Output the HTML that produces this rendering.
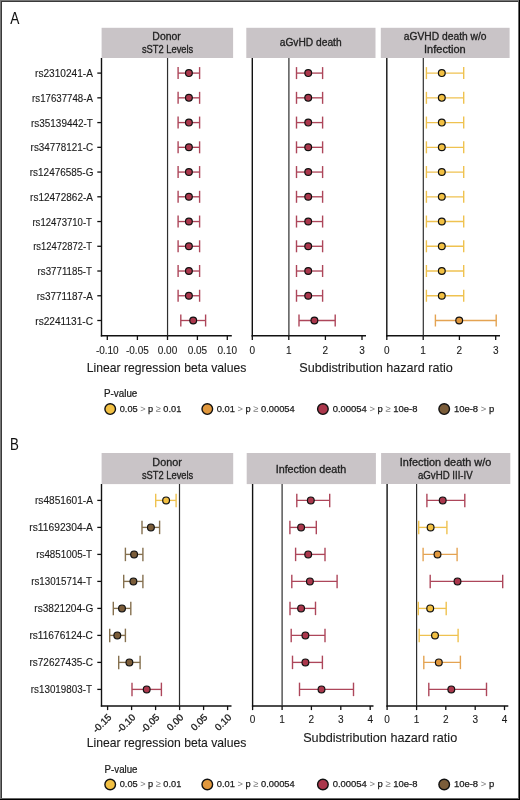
<!DOCTYPE html>
<html><head><meta charset="utf-8"><style>
html,body{margin:0;padding:0;background:#fff;}
svg{display:block;font-family:"Liberation Sans", sans-serif;}
.g{will-change:transform;}
</style></head><body>
<svg class="g" width="520" height="800" viewBox="0 0 520 800">
<rect x="0" y="0" width="520" height="800" fill="#fff"/>
<rect x="0.00" y="0.00" width="520.00" height="1.00" fill="#777"/>
<rect x="0.00" y="1.00" width="519.00" height="1.00" fill="#3a3a3a"/>
<rect x="0.00" y="0.00" width="1.00" height="800.00" fill="#777"/>
<rect x="1.00" y="1.00" width="1.00" height="798.00" fill="#3a3a3a"/>
<rect x="518.00" y="1.00" width="1.00" height="798.00" fill="#666"/>
<rect x="519.00" y="0.00" width="1.00" height="800.00" fill="#000"/>
<rect x="1.00" y="798.00" width="518.00" height="1.00" fill="#666"/>
<rect x="0.00" y="799.00" width="520.00" height="1.00" fill="#000"/>
<text x="10.20" y="23.70" font-size="16.0" fill="#111" stroke="#111" stroke-width="0.05" textLength="9.10" lengthAdjust="spacingAndGlyphs" >A</text>
<text x="9.94" y="449.90" font-size="16.0" fill="#111" stroke="#111" stroke-width="0.05" textLength="8.84" lengthAdjust="spacingAndGlyphs" >B</text>
<rect x="101.60" y="27.80" width="131.50" height="30.20" fill="#c9c4c7"/>
<text x="152.39" y="39.60" font-size="10.0" fill="#222" stroke="#222" stroke-width="0.3" textLength="28.43" lengthAdjust="spacingAndGlyphs" >Donor</text>
<text x="141.89" y="52.80" font-size="10.0" fill="#222" stroke="#222" stroke-width="0.3" textLength="51.40" lengthAdjust="spacingAndGlyphs" >sST2 Levels</text>
<rect x="246.30" y="27.80" width="129.20" height="30.20" fill="#c9c4c7"/>
<text x="279.72" y="46.40" font-size="10.0" fill="#222" stroke="#222" stroke-width="0.3" textLength="61.90" lengthAdjust="spacingAndGlyphs" >aGvHD death</text>
<rect x="380.80" y="27.80" width="128.80" height="30.20" fill="#c9c4c7"/>
<text x="403.81" y="39.80" font-size="10.0" fill="#222" stroke="#222" stroke-width="0.3" textLength="82.77" lengthAdjust="spacingAndGlyphs" >aGVHD death w/o</text>
<text x="424.03" y="52.90" font-size="10.0" fill="#222" stroke="#222" stroke-width="0.3" textLength="41.63" lengthAdjust="spacingAndGlyphs" >Infection</text>
<rect x="101.60" y="453.00" width="131.60" height="31.10" fill="#c9c4c7"/>
<text x="152.36" y="466.40" font-size="10.0" fill="#222" stroke="#222" stroke-width="0.3" textLength="29.47" lengthAdjust="spacingAndGlyphs" >Donor</text>
<text x="141.89" y="479.40" font-size="10.0" fill="#222" stroke="#222" stroke-width="0.3" textLength="51.40" lengthAdjust="spacingAndGlyphs" >sST2 Levels</text>
<rect x="246.70" y="453.00" width="129.20" height="31.10" fill="#c9c4c7"/>
<text x="275.66" y="472.50" font-size="10.0" fill="#222" stroke="#222" stroke-width="0.3" textLength="70.59" lengthAdjust="spacingAndGlyphs" >Infection death</text>
<rect x="381.10" y="453.00" width="129.20" height="31.00" fill="#c9c4c7"/>
<text x="399.84" y="466.00" font-size="10.0" fill="#222" stroke="#222" stroke-width="0.3" textLength="91.46" lengthAdjust="spacingAndGlyphs" >Infection death w/o</text>
<text x="417.94" y="478.50" font-size="10.0" fill="#222" stroke="#222" stroke-width="0.3" textLength="54.75" lengthAdjust="spacingAndGlyphs" >aGvHD III-IV</text>
<text x="35.09" y="77.10" font-size="10.6" fill="#1a1a1a" stroke="#1a1a1a" stroke-width="0.12" textLength="57.87" lengthAdjust="spacingAndGlyphs" >rs2310241-A</text>
<line x1="97.30" y1="73.10" x2="101.60" y2="73.10" stroke="#111" stroke-width="1.3"/>
<text x="32.12" y="101.84" font-size="10.6" fill="#1a1a1a" stroke="#1a1a1a" stroke-width="0.12" textLength="60.84" lengthAdjust="spacingAndGlyphs" >rs17637748-A</text>
<line x1="97.30" y1="97.84" x2="101.60" y2="97.84" stroke="#111" stroke-width="1.3"/>
<text x="31.00" y="126.58" font-size="10.6" fill="#1a1a1a" stroke="#1a1a1a" stroke-width="0.12" textLength="61.87" lengthAdjust="spacingAndGlyphs" >rs35139442-T</text>
<line x1="97.30" y1="122.58" x2="101.60" y2="122.58" stroke="#111" stroke-width="1.3"/>
<text x="30.61" y="151.32" font-size="10.6" fill="#1a1a1a" stroke="#1a1a1a" stroke-width="0.12" textLength="62.41" lengthAdjust="spacingAndGlyphs" >rs34778121-C</text>
<line x1="97.30" y1="147.32" x2="101.60" y2="147.32" stroke="#111" stroke-width="1.3"/>
<text x="29.80" y="176.06" font-size="10.6" fill="#1a1a1a" stroke="#1a1a1a" stroke-width="0.12" textLength="63.58" lengthAdjust="spacingAndGlyphs" >rs12476585-G</text>
<line x1="97.30" y1="172.06" x2="101.60" y2="172.06" stroke="#111" stroke-width="1.3"/>
<text x="30.10" y="200.80" font-size="10.6" fill="#1a1a1a" stroke="#1a1a1a" stroke-width="0.12" textLength="62.86" lengthAdjust="spacingAndGlyphs" >rs12472862-A</text>
<line x1="97.30" y1="196.80" x2="101.60" y2="196.80" stroke="#111" stroke-width="1.3"/>
<text x="32.43" y="225.54" font-size="10.6" fill="#1a1a1a" stroke="#1a1a1a" stroke-width="0.12" textLength="59.53" lengthAdjust="spacingAndGlyphs" >rs12473710-T</text>
<line x1="97.30" y1="221.54" x2="101.60" y2="221.54" stroke="#111" stroke-width="1.3"/>
<text x="33.23" y="250.28" font-size="10.6" fill="#1a1a1a" stroke="#1a1a1a" stroke-width="0.12" textLength="58.72" lengthAdjust="spacingAndGlyphs" >rs12472872-T</text>
<line x1="97.30" y1="246.28" x2="101.60" y2="246.28" stroke="#111" stroke-width="1.3"/>
<text x="37.62" y="275.02" font-size="10.6" fill="#1a1a1a" stroke="#1a1a1a" stroke-width="0.12" textLength="54.34" lengthAdjust="spacingAndGlyphs" >rs3771185-T</text>
<line x1="97.30" y1="271.02" x2="101.60" y2="271.02" stroke="#111" stroke-width="1.3"/>
<text x="36.71" y="299.76" font-size="10.6" fill="#1a1a1a" stroke="#1a1a1a" stroke-width="0.12" textLength="56.25" lengthAdjust="spacingAndGlyphs" >rs3771187-A</text>
<line x1="97.30" y1="295.76" x2="101.60" y2="295.76" stroke="#111" stroke-width="1.3"/>
<text x="35.30" y="324.50" font-size="10.6" fill="#1a1a1a" stroke="#1a1a1a" stroke-width="0.12" textLength="57.72" lengthAdjust="spacingAndGlyphs" >rs2241131-C</text>
<line x1="97.30" y1="320.50" x2="101.60" y2="320.50" stroke="#111" stroke-width="1.3"/>
<line x1="101.50" y1="58.00" x2="101.50" y2="336.50" stroke="#111" stroke-width="1.4"/>
<line x1="100.80" y1="335.80" x2="231.80" y2="335.80" stroke="#111" stroke-width="1.5"/>
<line x1="167.55" y1="58.00" x2="167.55" y2="335.80" stroke="#2e2e2e" stroke-width="1.2"/>
<line x1="107.30" y1="335.80" x2="107.30" y2="340.00" stroke="#111" stroke-width="1.3"/>
<text x="95.88" y="353.60" font-size="10" fill="#1a1a1a" stroke="#1a1a1a" stroke-width="0.1" textLength="22.79" lengthAdjust="spacingAndGlyphs" >-0.10</text>
<line x1="137.40" y1="335.80" x2="137.40" y2="340.00" stroke="#111" stroke-width="1.3"/>
<text x="125.99" y="353.60" font-size="10" fill="#1a1a1a" stroke="#1a1a1a" stroke-width="0.1" textLength="22.79" lengthAdjust="spacingAndGlyphs" >-0.05</text>
<line x1="167.50" y1="335.80" x2="167.50" y2="340.00" stroke="#111" stroke-width="1.3"/>
<text x="157.77" y="353.60" font-size="10" fill="#1a1a1a" stroke="#1a1a1a" stroke-width="0.1" textLength="19.46" lengthAdjust="spacingAndGlyphs" >0.00</text>
<line x1="197.40" y1="335.80" x2="197.40" y2="340.00" stroke="#111" stroke-width="1.3"/>
<text x="187.68" y="353.60" font-size="10" fill="#1a1a1a" stroke="#1a1a1a" stroke-width="0.1" textLength="19.46" lengthAdjust="spacingAndGlyphs" >0.05</text>
<line x1="227.30" y1="335.80" x2="227.30" y2="340.00" stroke="#111" stroke-width="1.3"/>
<text x="217.57" y="353.60" font-size="10" fill="#1a1a1a" stroke="#1a1a1a" stroke-width="0.1" textLength="19.46" lengthAdjust="spacingAndGlyphs" >0.10</text>
<line x1="252.30" y1="58.00" x2="252.30" y2="336.50" stroke="#111" stroke-width="1.4"/>
<line x1="251.60" y1="335.80" x2="366.00" y2="335.80" stroke="#111" stroke-width="1.5"/>
<line x1="288.90" y1="58.00" x2="288.90" y2="335.80" stroke="#2e2e2e" stroke-width="1.2"/>
<line x1="252.30" y1="335.80" x2="252.30" y2="340.00" stroke="#111" stroke-width="1.3"/>
<text x="249.52" y="353.60" font-size="10" fill="#1a1a1a" stroke="#1a1a1a" stroke-width="0.1" textLength="5.56" lengthAdjust="spacingAndGlyphs" >0</text>
<line x1="288.80" y1="335.80" x2="288.80" y2="340.00" stroke="#111" stroke-width="1.3"/>
<text x="285.88" y="353.60" font-size="10" fill="#1a1a1a" stroke="#1a1a1a" stroke-width="0.1" textLength="5.56" lengthAdjust="spacingAndGlyphs" >1</text>
<line x1="325.40" y1="335.80" x2="325.40" y2="340.00" stroke="#111" stroke-width="1.3"/>
<text x="322.62" y="353.60" font-size="10" fill="#1a1a1a" stroke="#1a1a1a" stroke-width="0.1" textLength="5.56" lengthAdjust="spacingAndGlyphs" >2</text>
<line x1="362.00" y1="335.80" x2="362.00" y2="340.00" stroke="#111" stroke-width="1.3"/>
<text x="359.25" y="353.60" font-size="10" fill="#1a1a1a" stroke="#1a1a1a" stroke-width="0.1" textLength="5.56" lengthAdjust="spacingAndGlyphs" >3</text>
<line x1="386.80" y1="58.00" x2="386.80" y2="336.50" stroke="#111" stroke-width="1.4"/>
<line x1="386.10" y1="335.80" x2="500.00" y2="335.80" stroke="#111" stroke-width="1.5"/>
<line x1="423.30" y1="58.00" x2="423.30" y2="335.80" stroke="#2e2e2e" stroke-width="1.2"/>
<line x1="386.80" y1="335.80" x2="386.80" y2="340.00" stroke="#111" stroke-width="1.3"/>
<text x="384.02" y="353.60" font-size="10" fill="#1a1a1a" stroke="#1a1a1a" stroke-width="0.1" textLength="5.56" lengthAdjust="spacingAndGlyphs" >0</text>
<line x1="423.20" y1="335.80" x2="423.20" y2="340.00" stroke="#111" stroke-width="1.3"/>
<text x="420.28" y="353.60" font-size="10" fill="#1a1a1a" stroke="#1a1a1a" stroke-width="0.1" textLength="5.56" lengthAdjust="spacingAndGlyphs" >1</text>
<line x1="459.40" y1="335.80" x2="459.40" y2="340.00" stroke="#111" stroke-width="1.3"/>
<text x="456.62" y="353.60" font-size="10" fill="#1a1a1a" stroke="#1a1a1a" stroke-width="0.1" textLength="5.56" lengthAdjust="spacingAndGlyphs" >2</text>
<line x1="495.70" y1="335.80" x2="495.70" y2="340.00" stroke="#111" stroke-width="1.3"/>
<text x="492.95" y="353.60" font-size="10" fill="#1a1a1a" stroke="#1a1a1a" stroke-width="0.1" textLength="5.56" lengthAdjust="spacingAndGlyphs" >3</text>
<line x1="178.10" y1="73.10" x2="199.60" y2="73.10" stroke="#ad465a" stroke-width="1.35"/>
<line x1="178.10" y1="67.10" x2="178.10" y2="79.10" stroke="#ad465a" stroke-width="1.4"/>
<line x1="199.60" y1="67.10" x2="199.60" y2="79.10" stroke="#ad465a" stroke-width="1.4"/>
<circle cx="188.90" cy="73.10" r="3.4" fill="#ab374c" stroke="#111" stroke-width="1.2"/>
<line x1="178.10" y1="97.84" x2="199.60" y2="97.84" stroke="#ad465a" stroke-width="1.35"/>
<line x1="178.10" y1="91.84" x2="178.10" y2="103.84" stroke="#ad465a" stroke-width="1.4"/>
<line x1="199.60" y1="91.84" x2="199.60" y2="103.84" stroke="#ad465a" stroke-width="1.4"/>
<circle cx="188.90" cy="97.84" r="3.4" fill="#ab374c" stroke="#111" stroke-width="1.2"/>
<line x1="178.10" y1="122.58" x2="199.60" y2="122.58" stroke="#ad465a" stroke-width="1.35"/>
<line x1="178.10" y1="116.58" x2="178.10" y2="128.58" stroke="#ad465a" stroke-width="1.4"/>
<line x1="199.60" y1="116.58" x2="199.60" y2="128.58" stroke="#ad465a" stroke-width="1.4"/>
<circle cx="188.90" cy="122.58" r="3.4" fill="#ab374c" stroke="#111" stroke-width="1.2"/>
<line x1="178.10" y1="147.32" x2="199.60" y2="147.32" stroke="#ad465a" stroke-width="1.35"/>
<line x1="178.10" y1="141.32" x2="178.10" y2="153.32" stroke="#ad465a" stroke-width="1.4"/>
<line x1="199.60" y1="141.32" x2="199.60" y2="153.32" stroke="#ad465a" stroke-width="1.4"/>
<circle cx="188.90" cy="147.32" r="3.4" fill="#ab374c" stroke="#111" stroke-width="1.2"/>
<line x1="178.10" y1="172.06" x2="199.60" y2="172.06" stroke="#ad465a" stroke-width="1.35"/>
<line x1="178.10" y1="166.06" x2="178.10" y2="178.06" stroke="#ad465a" stroke-width="1.4"/>
<line x1="199.60" y1="166.06" x2="199.60" y2="178.06" stroke="#ad465a" stroke-width="1.4"/>
<circle cx="188.90" cy="172.06" r="3.4" fill="#ab374c" stroke="#111" stroke-width="1.2"/>
<line x1="178.10" y1="196.80" x2="199.60" y2="196.80" stroke="#ad465a" stroke-width="1.35"/>
<line x1="178.10" y1="190.80" x2="178.10" y2="202.80" stroke="#ad465a" stroke-width="1.4"/>
<line x1="199.60" y1="190.80" x2="199.60" y2="202.80" stroke="#ad465a" stroke-width="1.4"/>
<circle cx="188.90" cy="196.80" r="3.4" fill="#ab374c" stroke="#111" stroke-width="1.2"/>
<line x1="178.10" y1="221.54" x2="199.60" y2="221.54" stroke="#ad465a" stroke-width="1.35"/>
<line x1="178.10" y1="215.54" x2="178.10" y2="227.54" stroke="#ad465a" stroke-width="1.4"/>
<line x1="199.60" y1="215.54" x2="199.60" y2="227.54" stroke="#ad465a" stroke-width="1.4"/>
<circle cx="188.90" cy="221.54" r="3.4" fill="#ab374c" stroke="#111" stroke-width="1.2"/>
<line x1="178.10" y1="246.28" x2="199.60" y2="246.28" stroke="#ad465a" stroke-width="1.35"/>
<line x1="178.10" y1="240.28" x2="178.10" y2="252.28" stroke="#ad465a" stroke-width="1.4"/>
<line x1="199.60" y1="240.28" x2="199.60" y2="252.28" stroke="#ad465a" stroke-width="1.4"/>
<circle cx="188.90" cy="246.28" r="3.4" fill="#ab374c" stroke="#111" stroke-width="1.2"/>
<line x1="178.10" y1="271.02" x2="199.60" y2="271.02" stroke="#ad465a" stroke-width="1.35"/>
<line x1="178.10" y1="265.02" x2="178.10" y2="277.02" stroke="#ad465a" stroke-width="1.4"/>
<line x1="199.60" y1="265.02" x2="199.60" y2="277.02" stroke="#ad465a" stroke-width="1.4"/>
<circle cx="188.90" cy="271.02" r="3.4" fill="#ab374c" stroke="#111" stroke-width="1.2"/>
<line x1="178.10" y1="295.76" x2="199.60" y2="295.76" stroke="#ad465a" stroke-width="1.35"/>
<line x1="178.10" y1="289.76" x2="178.10" y2="301.76" stroke="#ad465a" stroke-width="1.4"/>
<line x1="199.60" y1="289.76" x2="199.60" y2="301.76" stroke="#ad465a" stroke-width="1.4"/>
<circle cx="188.90" cy="295.76" r="3.4" fill="#ab374c" stroke="#111" stroke-width="1.2"/>
<line x1="180.80" y1="320.50" x2="205.60" y2="320.50" stroke="#ad465a" stroke-width="1.35"/>
<line x1="180.80" y1="314.50" x2="180.80" y2="326.50" stroke="#ad465a" stroke-width="1.4"/>
<line x1="205.60" y1="314.50" x2="205.60" y2="326.50" stroke="#ad465a" stroke-width="1.4"/>
<circle cx="193.20" cy="320.50" r="3.4" fill="#ab374c" stroke="#111" stroke-width="1.2"/>
<line x1="296.50" y1="73.10" x2="322.60" y2="73.10" stroke="#ad465a" stroke-width="1.35"/>
<line x1="296.50" y1="67.10" x2="296.50" y2="79.10" stroke="#ad465a" stroke-width="1.4"/>
<line x1="322.60" y1="67.10" x2="322.60" y2="79.10" stroke="#ad465a" stroke-width="1.4"/>
<circle cx="308.20" cy="73.10" r="3.4" fill="#ab374c" stroke="#111" stroke-width="1.2"/>
<line x1="296.50" y1="97.84" x2="322.60" y2="97.84" stroke="#ad465a" stroke-width="1.35"/>
<line x1="296.50" y1="91.84" x2="296.50" y2="103.84" stroke="#ad465a" stroke-width="1.4"/>
<line x1="322.60" y1="91.84" x2="322.60" y2="103.84" stroke="#ad465a" stroke-width="1.4"/>
<circle cx="308.20" cy="97.84" r="3.4" fill="#ab374c" stroke="#111" stroke-width="1.2"/>
<line x1="296.50" y1="122.58" x2="322.60" y2="122.58" stroke="#ad465a" stroke-width="1.35"/>
<line x1="296.50" y1="116.58" x2="296.50" y2="128.58" stroke="#ad465a" stroke-width="1.4"/>
<line x1="322.60" y1="116.58" x2="322.60" y2="128.58" stroke="#ad465a" stroke-width="1.4"/>
<circle cx="308.20" cy="122.58" r="3.4" fill="#ab374c" stroke="#111" stroke-width="1.2"/>
<line x1="296.50" y1="147.32" x2="322.60" y2="147.32" stroke="#ad465a" stroke-width="1.35"/>
<line x1="296.50" y1="141.32" x2="296.50" y2="153.32" stroke="#ad465a" stroke-width="1.4"/>
<line x1="322.60" y1="141.32" x2="322.60" y2="153.32" stroke="#ad465a" stroke-width="1.4"/>
<circle cx="308.20" cy="147.32" r="3.4" fill="#ab374c" stroke="#111" stroke-width="1.2"/>
<line x1="296.50" y1="172.06" x2="322.60" y2="172.06" stroke="#ad465a" stroke-width="1.35"/>
<line x1="296.50" y1="166.06" x2="296.50" y2="178.06" stroke="#ad465a" stroke-width="1.4"/>
<line x1="322.60" y1="166.06" x2="322.60" y2="178.06" stroke="#ad465a" stroke-width="1.4"/>
<circle cx="308.20" cy="172.06" r="3.4" fill="#ab374c" stroke="#111" stroke-width="1.2"/>
<line x1="296.50" y1="196.80" x2="322.60" y2="196.80" stroke="#ad465a" stroke-width="1.35"/>
<line x1="296.50" y1="190.80" x2="296.50" y2="202.80" stroke="#ad465a" stroke-width="1.4"/>
<line x1="322.60" y1="190.80" x2="322.60" y2="202.80" stroke="#ad465a" stroke-width="1.4"/>
<circle cx="308.20" cy="196.80" r="3.4" fill="#ab374c" stroke="#111" stroke-width="1.2"/>
<line x1="296.50" y1="221.54" x2="322.60" y2="221.54" stroke="#ad465a" stroke-width="1.35"/>
<line x1="296.50" y1="215.54" x2="296.50" y2="227.54" stroke="#ad465a" stroke-width="1.4"/>
<line x1="322.60" y1="215.54" x2="322.60" y2="227.54" stroke="#ad465a" stroke-width="1.4"/>
<circle cx="308.20" cy="221.54" r="3.4" fill="#ab374c" stroke="#111" stroke-width="1.2"/>
<line x1="296.50" y1="246.28" x2="322.60" y2="246.28" stroke="#ad465a" stroke-width="1.35"/>
<line x1="296.50" y1="240.28" x2="296.50" y2="252.28" stroke="#ad465a" stroke-width="1.4"/>
<line x1="322.60" y1="240.28" x2="322.60" y2="252.28" stroke="#ad465a" stroke-width="1.4"/>
<circle cx="308.20" cy="246.28" r="3.4" fill="#ab374c" stroke="#111" stroke-width="1.2"/>
<line x1="296.50" y1="271.02" x2="322.60" y2="271.02" stroke="#ad465a" stroke-width="1.35"/>
<line x1="296.50" y1="265.02" x2="296.50" y2="277.02" stroke="#ad465a" stroke-width="1.4"/>
<line x1="322.60" y1="265.02" x2="322.60" y2="277.02" stroke="#ad465a" stroke-width="1.4"/>
<circle cx="308.20" cy="271.02" r="3.4" fill="#ab374c" stroke="#111" stroke-width="1.2"/>
<line x1="296.50" y1="295.76" x2="322.60" y2="295.76" stroke="#ad465a" stroke-width="1.35"/>
<line x1="296.50" y1="289.76" x2="296.50" y2="301.76" stroke="#ad465a" stroke-width="1.4"/>
<line x1="322.60" y1="289.76" x2="322.60" y2="301.76" stroke="#ad465a" stroke-width="1.4"/>
<circle cx="308.20" cy="295.76" r="3.4" fill="#ab374c" stroke="#111" stroke-width="1.2"/>
<line x1="299.00" y1="320.50" x2="335.20" y2="320.50" stroke="#ad465a" stroke-width="1.35"/>
<line x1="299.00" y1="314.50" x2="299.00" y2="326.50" stroke="#ad465a" stroke-width="1.4"/>
<line x1="335.20" y1="314.50" x2="335.20" y2="326.50" stroke="#ad465a" stroke-width="1.4"/>
<circle cx="314.40" cy="320.50" r="3.4" fill="#ab374c" stroke="#111" stroke-width="1.2"/>
<line x1="426.40" y1="73.10" x2="463.70" y2="73.10" stroke="#efc250" stroke-width="1.35"/>
<line x1="426.40" y1="67.10" x2="426.40" y2="79.10" stroke="#efc250" stroke-width="1.4"/>
<line x1="463.70" y1="67.10" x2="463.70" y2="79.10" stroke="#efc250" stroke-width="1.4"/>
<circle cx="441.80" cy="73.10" r="3.4" fill="#f2c043" stroke="#111" stroke-width="1.2"/>
<line x1="426.40" y1="97.84" x2="463.70" y2="97.84" stroke="#efc250" stroke-width="1.35"/>
<line x1="426.40" y1="91.84" x2="426.40" y2="103.84" stroke="#efc250" stroke-width="1.4"/>
<line x1="463.70" y1="91.84" x2="463.70" y2="103.84" stroke="#efc250" stroke-width="1.4"/>
<circle cx="441.80" cy="97.84" r="3.4" fill="#f2c043" stroke="#111" stroke-width="1.2"/>
<line x1="426.40" y1="122.58" x2="463.70" y2="122.58" stroke="#efc250" stroke-width="1.35"/>
<line x1="426.40" y1="116.58" x2="426.40" y2="128.58" stroke="#efc250" stroke-width="1.4"/>
<line x1="463.70" y1="116.58" x2="463.70" y2="128.58" stroke="#efc250" stroke-width="1.4"/>
<circle cx="441.80" cy="122.58" r="3.4" fill="#f2c043" stroke="#111" stroke-width="1.2"/>
<line x1="426.40" y1="147.32" x2="463.70" y2="147.32" stroke="#efc250" stroke-width="1.35"/>
<line x1="426.40" y1="141.32" x2="426.40" y2="153.32" stroke="#efc250" stroke-width="1.4"/>
<line x1="463.70" y1="141.32" x2="463.70" y2="153.32" stroke="#efc250" stroke-width="1.4"/>
<circle cx="441.80" cy="147.32" r="3.4" fill="#f2c043" stroke="#111" stroke-width="1.2"/>
<line x1="426.40" y1="172.06" x2="463.70" y2="172.06" stroke="#efc250" stroke-width="1.35"/>
<line x1="426.40" y1="166.06" x2="426.40" y2="178.06" stroke="#efc250" stroke-width="1.4"/>
<line x1="463.70" y1="166.06" x2="463.70" y2="178.06" stroke="#efc250" stroke-width="1.4"/>
<circle cx="441.80" cy="172.06" r="3.4" fill="#f2c043" stroke="#111" stroke-width="1.2"/>
<line x1="426.40" y1="196.80" x2="463.70" y2="196.80" stroke="#efc250" stroke-width="1.35"/>
<line x1="426.40" y1="190.80" x2="426.40" y2="202.80" stroke="#efc250" stroke-width="1.4"/>
<line x1="463.70" y1="190.80" x2="463.70" y2="202.80" stroke="#efc250" stroke-width="1.4"/>
<circle cx="441.80" cy="196.80" r="3.4" fill="#f2c043" stroke="#111" stroke-width="1.2"/>
<line x1="426.40" y1="221.54" x2="463.70" y2="221.54" stroke="#efc250" stroke-width="1.35"/>
<line x1="426.40" y1="215.54" x2="426.40" y2="227.54" stroke="#efc250" stroke-width="1.4"/>
<line x1="463.70" y1="215.54" x2="463.70" y2="227.54" stroke="#efc250" stroke-width="1.4"/>
<circle cx="441.80" cy="221.54" r="3.4" fill="#f2c043" stroke="#111" stroke-width="1.2"/>
<line x1="426.40" y1="246.28" x2="463.70" y2="246.28" stroke="#efc250" stroke-width="1.35"/>
<line x1="426.40" y1="240.28" x2="426.40" y2="252.28" stroke="#efc250" stroke-width="1.4"/>
<line x1="463.70" y1="240.28" x2="463.70" y2="252.28" stroke="#efc250" stroke-width="1.4"/>
<circle cx="441.80" cy="246.28" r="3.4" fill="#f2c043" stroke="#111" stroke-width="1.2"/>
<line x1="426.40" y1="271.02" x2="463.70" y2="271.02" stroke="#efc250" stroke-width="1.35"/>
<line x1="426.40" y1="265.02" x2="426.40" y2="277.02" stroke="#efc250" stroke-width="1.4"/>
<line x1="463.70" y1="265.02" x2="463.70" y2="277.02" stroke="#efc250" stroke-width="1.4"/>
<circle cx="441.80" cy="271.02" r="3.4" fill="#f2c043" stroke="#111" stroke-width="1.2"/>
<line x1="426.40" y1="295.76" x2="463.70" y2="295.76" stroke="#efc250" stroke-width="1.35"/>
<line x1="426.40" y1="289.76" x2="426.40" y2="301.76" stroke="#efc250" stroke-width="1.4"/>
<line x1="463.70" y1="289.76" x2="463.70" y2="301.76" stroke="#efc250" stroke-width="1.4"/>
<circle cx="441.80" cy="295.76" r="3.4" fill="#f2c043" stroke="#111" stroke-width="1.2"/>
<line x1="435.40" y1="320.50" x2="496.20" y2="320.50" stroke="#e4a352" stroke-width="1.35"/>
<line x1="435.40" y1="314.50" x2="435.40" y2="326.50" stroke="#e4a352" stroke-width="1.4"/>
<line x1="496.20" y1="314.50" x2="496.20" y2="326.50" stroke="#e4a352" stroke-width="1.4"/>
<circle cx="459.20" cy="320.50" r="3.4" fill="#e1983d" stroke="#111" stroke-width="1.2"/>
<text x="86.76" y="371.60" font-size="13.2" fill="#1a1a1a" stroke="#1a1a1a" stroke-width="0.12" textLength="159.62" lengthAdjust="spacingAndGlyphs" >Linear regression beta values</text>
<text x="299.29" y="371.60" font-size="13.2" fill="#1a1a1a" stroke="#1a1a1a" stroke-width="0.12" textLength="153.58" lengthAdjust="spacingAndGlyphs" >Subdistribution hazard ratio</text>
<text x="34.99" y="504.10" font-size="10.6" fill="#1a1a1a" stroke="#1a1a1a" stroke-width="0.12" textLength="57.97" lengthAdjust="spacingAndGlyphs" >rs4851601-A</text>
<line x1="97.30" y1="500.40" x2="101.60" y2="500.40" stroke="#111" stroke-width="1.3"/>
<text x="29.29" y="531.10" font-size="10.6" fill="#1a1a1a" stroke="#1a1a1a" stroke-width="0.12" textLength="63.67" lengthAdjust="spacingAndGlyphs" >rs11692304-A</text>
<line x1="97.30" y1="527.40" x2="101.60" y2="527.40" stroke="#111" stroke-width="1.3"/>
<text x="36.21" y="558.10" font-size="10.6" fill="#1a1a1a" stroke="#1a1a1a" stroke-width="0.12" textLength="55.76" lengthAdjust="spacingAndGlyphs" >rs4851005-T</text>
<line x1="97.30" y1="554.40" x2="101.60" y2="554.40" stroke="#111" stroke-width="1.3"/>
<text x="31.21" y="585.10" font-size="10.6" fill="#1a1a1a" stroke="#1a1a1a" stroke-width="0.12" textLength="60.75" lengthAdjust="spacingAndGlyphs" >rs13015714-T</text>
<line x1="97.30" y1="581.40" x2="101.60" y2="581.40" stroke="#111" stroke-width="1.3"/>
<text x="34.29" y="612.10" font-size="10.6" fill="#1a1a1a" stroke="#1a1a1a" stroke-width="0.12" textLength="59.01" lengthAdjust="spacingAndGlyphs" >rs3821204-G</text>
<line x1="97.30" y1="608.40" x2="101.60" y2="608.40" stroke="#111" stroke-width="1.3"/>
<text x="29.39" y="639.10" font-size="10.6" fill="#1a1a1a" stroke="#1a1a1a" stroke-width="0.12" textLength="63.53" lengthAdjust="spacingAndGlyphs" >rs11676124-C</text>
<line x1="97.30" y1="635.40" x2="101.60" y2="635.40" stroke="#111" stroke-width="1.3"/>
<text x="29.39" y="666.10" font-size="10.6" fill="#1a1a1a" stroke="#1a1a1a" stroke-width="0.12" textLength="63.53" lengthAdjust="spacingAndGlyphs" >rs72627435-C</text>
<line x1="97.30" y1="662.40" x2="101.60" y2="662.40" stroke="#111" stroke-width="1.3"/>
<text x="30.81" y="693.10" font-size="10.6" fill="#1a1a1a" stroke="#1a1a1a" stroke-width="0.12" textLength="61.16" lengthAdjust="spacingAndGlyphs" >rs13019803-T</text>
<line x1="97.30" y1="689.40" x2="101.60" y2="689.40" stroke="#111" stroke-width="1.3"/>
<line x1="101.50" y1="484.00" x2="101.50" y2="706.60" stroke="#111" stroke-width="1.4"/>
<line x1="100.80" y1="705.90" x2="231.50" y2="705.90" stroke="#111" stroke-width="1.5"/>
<line x1="179.50" y1="484.00" x2="179.50" y2="705.90" stroke="#2e2e2e" stroke-width="1.2"/>
<line x1="107.60" y1="705.90" x2="107.60" y2="710.10" stroke="#111" stroke-width="1.3"/>
<line x1="131.60" y1="705.90" x2="131.60" y2="710.10" stroke="#111" stroke-width="1.3"/>
<line x1="155.60" y1="705.90" x2="155.60" y2="710.10" stroke="#111" stroke-width="1.3"/>
<line x1="179.60" y1="705.90" x2="179.60" y2="710.10" stroke="#111" stroke-width="1.3"/>
<line x1="203.60" y1="705.90" x2="203.60" y2="710.10" stroke="#111" stroke-width="1.3"/>
<line x1="227.60" y1="705.90" x2="227.60" y2="710.10" stroke="#111" stroke-width="1.3"/>
<text transform="translate(109.50,715.30) rotate(-45)" x="0" y="3.6" font-size="9.7" fill="#1a1a1a" stroke="#1a1a1a" stroke-width="0.3" text-anchor="end">-0.15</text>
<text transform="translate(133.50,715.30) rotate(-45)" x="0" y="3.6" font-size="9.7" fill="#1a1a1a" stroke="#1a1a1a" stroke-width="0.3" text-anchor="end">-0.10</text>
<text transform="translate(157.50,715.30) rotate(-45)" x="0" y="3.6" font-size="9.7" fill="#1a1a1a" stroke="#1a1a1a" stroke-width="0.3" text-anchor="end">-0.05</text>
<text transform="translate(181.50,715.30) rotate(-45)" x="0" y="3.6" font-size="9.7" fill="#1a1a1a" stroke="#1a1a1a" stroke-width="0.3" text-anchor="end">0.00</text>
<text transform="translate(205.50,715.30) rotate(-45)" x="0" y="3.6" font-size="9.7" fill="#1a1a1a" stroke="#1a1a1a" stroke-width="0.3" text-anchor="end">0.05</text>
<text transform="translate(229.50,715.30) rotate(-45)" x="0" y="3.6" font-size="9.7" fill="#1a1a1a" stroke="#1a1a1a" stroke-width="0.3" text-anchor="end">0.10</text>
<line x1="252.60" y1="484.00" x2="252.60" y2="706.60" stroke="#111" stroke-width="1.4"/>
<line x1="251.90" y1="705.90" x2="373.50" y2="705.90" stroke="#111" stroke-width="1.5"/>
<line x1="282.10" y1="484.00" x2="282.10" y2="705.90" stroke="#2e2e2e" stroke-width="1.2"/>
<line x1="252.60" y1="705.90" x2="252.60" y2="710.10" stroke="#111" stroke-width="1.3"/>
<text x="249.82" y="723.40" font-size="10" fill="#1a1a1a" stroke="#1a1a1a" stroke-width="0.1" textLength="5.56" lengthAdjust="spacingAndGlyphs" >0</text>
<line x1="282.10" y1="705.90" x2="282.10" y2="710.10" stroke="#111" stroke-width="1.3"/>
<text x="279.18" y="723.40" font-size="10" fill="#1a1a1a" stroke="#1a1a1a" stroke-width="0.1" textLength="5.56" lengthAdjust="spacingAndGlyphs" >1</text>
<line x1="311.40" y1="705.90" x2="311.40" y2="710.10" stroke="#111" stroke-width="1.3"/>
<text x="308.62" y="723.40" font-size="10" fill="#1a1a1a" stroke="#1a1a1a" stroke-width="0.1" textLength="5.56" lengthAdjust="spacingAndGlyphs" >2</text>
<line x1="340.80" y1="705.90" x2="340.80" y2="710.10" stroke="#111" stroke-width="1.3"/>
<text x="338.05" y="723.40" font-size="10" fill="#1a1a1a" stroke="#1a1a1a" stroke-width="0.1" textLength="5.56" lengthAdjust="spacingAndGlyphs" >3</text>
<line x1="370.20" y1="705.90" x2="370.20" y2="710.10" stroke="#111" stroke-width="1.3"/>
<text x="367.45" y="723.40" font-size="10" fill="#1a1a1a" stroke="#1a1a1a" stroke-width="0.1" textLength="5.56" lengthAdjust="spacingAndGlyphs" >4</text>
<line x1="387.10" y1="484.00" x2="387.10" y2="706.60" stroke="#111" stroke-width="1.4"/>
<line x1="386.40" y1="705.90" x2="508.30" y2="705.90" stroke="#111" stroke-width="1.5"/>
<line x1="416.60" y1="484.00" x2="416.60" y2="705.90" stroke="#2e2e2e" stroke-width="1.2"/>
<line x1="387.10" y1="705.90" x2="387.10" y2="710.10" stroke="#111" stroke-width="1.3"/>
<text x="384.32" y="723.40" font-size="10" fill="#1a1a1a" stroke="#1a1a1a" stroke-width="0.1" textLength="5.56" lengthAdjust="spacingAndGlyphs" >0</text>
<line x1="416.60" y1="705.90" x2="416.60" y2="710.10" stroke="#111" stroke-width="1.3"/>
<text x="413.68" y="723.40" font-size="10" fill="#1a1a1a" stroke="#1a1a1a" stroke-width="0.1" textLength="5.56" lengthAdjust="spacingAndGlyphs" >1</text>
<line x1="445.80" y1="705.90" x2="445.80" y2="710.10" stroke="#111" stroke-width="1.3"/>
<text x="443.02" y="723.40" font-size="10" fill="#1a1a1a" stroke="#1a1a1a" stroke-width="0.1" textLength="5.56" lengthAdjust="spacingAndGlyphs" >2</text>
<line x1="475.20" y1="705.90" x2="475.20" y2="710.10" stroke="#111" stroke-width="1.3"/>
<text x="472.45" y="723.40" font-size="10" fill="#1a1a1a" stroke="#1a1a1a" stroke-width="0.1" textLength="5.56" lengthAdjust="spacingAndGlyphs" >3</text>
<line x1="504.50" y1="705.90" x2="504.50" y2="710.10" stroke="#111" stroke-width="1.3"/>
<text x="501.75" y="723.40" font-size="10" fill="#1a1a1a" stroke="#1a1a1a" stroke-width="0.1" textLength="5.56" lengthAdjust="spacingAndGlyphs" >4</text>
<line x1="155.70" y1="500.40" x2="176.10" y2="500.40" stroke="#efc250" stroke-width="1.35"/>
<line x1="155.70" y1="493.65" x2="155.70" y2="507.15" stroke="#efc250" stroke-width="1.4"/>
<line x1="176.10" y1="493.65" x2="176.10" y2="507.15" stroke="#efc250" stroke-width="1.4"/>
<circle cx="166.10" cy="500.40" r="3.4" fill="#f2c043" stroke="#111" stroke-width="1.2"/>
<line x1="142.00" y1="527.40" x2="159.60" y2="527.40" stroke="#85704f" stroke-width="1.35"/>
<line x1="142.00" y1="520.65" x2="142.00" y2="534.15" stroke="#85704f" stroke-width="1.4"/>
<line x1="159.60" y1="520.65" x2="159.60" y2="534.15" stroke="#85704f" stroke-width="1.4"/>
<circle cx="150.90" cy="527.40" r="3.4" fill="#7b5d3a" stroke="#111" stroke-width="1.2"/>
<line x1="125.40" y1="554.40" x2="142.90" y2="554.40" stroke="#85704f" stroke-width="1.35"/>
<line x1="125.40" y1="547.65" x2="125.40" y2="561.15" stroke="#85704f" stroke-width="1.4"/>
<line x1="142.90" y1="547.65" x2="142.90" y2="561.15" stroke="#85704f" stroke-width="1.4"/>
<circle cx="134.10" cy="554.40" r="3.4" fill="#7b5d3a" stroke="#111" stroke-width="1.2"/>
<line x1="123.70" y1="581.40" x2="142.90" y2="581.40" stroke="#85704f" stroke-width="1.35"/>
<line x1="123.70" y1="574.65" x2="123.70" y2="588.15" stroke="#85704f" stroke-width="1.4"/>
<line x1="142.90" y1="574.65" x2="142.90" y2="588.15" stroke="#85704f" stroke-width="1.4"/>
<circle cx="133.40" cy="581.40" r="3.4" fill="#7b5d3a" stroke="#111" stroke-width="1.2"/>
<line x1="113.30" y1="608.40" x2="130.80" y2="608.40" stroke="#85704f" stroke-width="1.35"/>
<line x1="113.30" y1="601.65" x2="113.30" y2="615.15" stroke="#85704f" stroke-width="1.4"/>
<line x1="130.80" y1="601.65" x2="130.80" y2="615.15" stroke="#85704f" stroke-width="1.4"/>
<circle cx="122.00" cy="608.40" r="3.4" fill="#7b5d3a" stroke="#111" stroke-width="1.2"/>
<line x1="109.70" y1="635.40" x2="125.40" y2="635.40" stroke="#85704f" stroke-width="1.35"/>
<line x1="109.70" y1="628.65" x2="109.70" y2="642.15" stroke="#85704f" stroke-width="1.4"/>
<line x1="125.40" y1="628.65" x2="125.40" y2="642.15" stroke="#85704f" stroke-width="1.4"/>
<circle cx="117.30" cy="635.40" r="3.4" fill="#7b5d3a" stroke="#111" stroke-width="1.2"/>
<line x1="118.70" y1="662.40" x2="140.10" y2="662.40" stroke="#85704f" stroke-width="1.35"/>
<line x1="118.70" y1="655.65" x2="118.70" y2="669.15" stroke="#85704f" stroke-width="1.4"/>
<line x1="140.10" y1="655.65" x2="140.10" y2="669.15" stroke="#85704f" stroke-width="1.4"/>
<circle cx="129.40" cy="662.40" r="3.4" fill="#7b5d3a" stroke="#111" stroke-width="1.2"/>
<line x1="132.00" y1="689.40" x2="161.40" y2="689.40" stroke="#ad465a" stroke-width="1.35"/>
<line x1="132.00" y1="682.65" x2="132.00" y2="696.15" stroke="#ad465a" stroke-width="1.4"/>
<line x1="161.40" y1="682.65" x2="161.40" y2="696.15" stroke="#ad465a" stroke-width="1.4"/>
<circle cx="146.70" cy="689.40" r="3.4" fill="#ab374c" stroke="#111" stroke-width="1.2"/>
<line x1="296.80" y1="500.40" x2="329.70" y2="500.40" stroke="#ad465a" stroke-width="1.35"/>
<line x1="296.80" y1="493.65" x2="296.80" y2="507.15" stroke="#ad465a" stroke-width="1.4"/>
<line x1="329.70" y1="493.65" x2="329.70" y2="507.15" stroke="#ad465a" stroke-width="1.4"/>
<circle cx="310.80" cy="500.40" r="3.4" fill="#ab374c" stroke="#111" stroke-width="1.2"/>
<line x1="289.90" y1="527.40" x2="316.30" y2="527.40" stroke="#ad465a" stroke-width="1.35"/>
<line x1="289.90" y1="520.65" x2="289.90" y2="534.15" stroke="#ad465a" stroke-width="1.4"/>
<line x1="316.30" y1="520.65" x2="316.30" y2="534.15" stroke="#ad465a" stroke-width="1.4"/>
<circle cx="301.10" cy="527.40" r="3.4" fill="#ab374c" stroke="#111" stroke-width="1.2"/>
<line x1="295.60" y1="554.40" x2="325.00" y2="554.40" stroke="#ad465a" stroke-width="1.35"/>
<line x1="295.60" y1="547.65" x2="295.60" y2="561.15" stroke="#ad465a" stroke-width="1.4"/>
<line x1="325.00" y1="547.65" x2="325.00" y2="561.15" stroke="#ad465a" stroke-width="1.4"/>
<circle cx="308.20" cy="554.40" r="3.4" fill="#ab374c" stroke="#111" stroke-width="1.2"/>
<line x1="291.80" y1="581.40" x2="337.10" y2="581.40" stroke="#ad465a" stroke-width="1.35"/>
<line x1="291.80" y1="574.65" x2="291.80" y2="588.15" stroke="#ad465a" stroke-width="1.4"/>
<line x1="337.10" y1="574.65" x2="337.10" y2="588.15" stroke="#ad465a" stroke-width="1.4"/>
<circle cx="309.90" cy="581.40" r="3.4" fill="#ab374c" stroke="#111" stroke-width="1.2"/>
<line x1="290.00" y1="608.40" x2="315.50" y2="608.40" stroke="#ad465a" stroke-width="1.35"/>
<line x1="290.00" y1="601.65" x2="290.00" y2="615.15" stroke="#ad465a" stroke-width="1.4"/>
<line x1="315.50" y1="601.65" x2="315.50" y2="615.15" stroke="#ad465a" stroke-width="1.4"/>
<circle cx="301.10" cy="608.40" r="3.4" fill="#ab374c" stroke="#111" stroke-width="1.2"/>
<line x1="291.20" y1="635.40" x2="325.00" y2="635.40" stroke="#ad465a" stroke-width="1.35"/>
<line x1="291.20" y1="628.65" x2="291.20" y2="642.15" stroke="#ad465a" stroke-width="1.4"/>
<line x1="325.00" y1="628.65" x2="325.00" y2="642.15" stroke="#ad465a" stroke-width="1.4"/>
<circle cx="305.40" cy="635.40" r="3.4" fill="#ab374c" stroke="#111" stroke-width="1.2"/>
<line x1="292.50" y1="662.40" x2="322.40" y2="662.40" stroke="#ad465a" stroke-width="1.35"/>
<line x1="292.50" y1="655.65" x2="292.50" y2="669.15" stroke="#ad465a" stroke-width="1.4"/>
<line x1="322.40" y1="655.65" x2="322.40" y2="669.15" stroke="#ad465a" stroke-width="1.4"/>
<circle cx="305.40" cy="662.40" r="3.4" fill="#ab374c" stroke="#111" stroke-width="1.2"/>
<line x1="299.50" y1="689.40" x2="353.50" y2="689.40" stroke="#ad465a" stroke-width="1.35"/>
<line x1="299.50" y1="682.65" x2="299.50" y2="696.15" stroke="#ad465a" stroke-width="1.4"/>
<line x1="353.50" y1="682.65" x2="353.50" y2="696.15" stroke="#ad465a" stroke-width="1.4"/>
<circle cx="321.50" cy="689.40" r="3.4" fill="#ab374c" stroke="#111" stroke-width="1.2"/>
<line x1="426.90" y1="500.40" x2="464.80" y2="500.40" stroke="#ad465a" stroke-width="1.35"/>
<line x1="426.90" y1="493.65" x2="426.90" y2="507.15" stroke="#ad465a" stroke-width="1.4"/>
<line x1="464.80" y1="493.65" x2="464.80" y2="507.15" stroke="#ad465a" stroke-width="1.4"/>
<circle cx="442.70" cy="500.40" r="3.4" fill="#ab374c" stroke="#111" stroke-width="1.2"/>
<line x1="418.70" y1="527.40" x2="446.90" y2="527.40" stroke="#efc250" stroke-width="1.35"/>
<line x1="418.70" y1="520.65" x2="418.70" y2="534.15" stroke="#efc250" stroke-width="1.4"/>
<line x1="446.90" y1="520.65" x2="446.90" y2="534.15" stroke="#efc250" stroke-width="1.4"/>
<circle cx="430.60" cy="527.40" r="3.4" fill="#f2c043" stroke="#111" stroke-width="1.2"/>
<line x1="423.10" y1="554.40" x2="457.10" y2="554.40" stroke="#e4a352" stroke-width="1.35"/>
<line x1="423.10" y1="547.65" x2="423.10" y2="561.15" stroke="#e4a352" stroke-width="1.4"/>
<line x1="457.10" y1="547.65" x2="457.10" y2="561.15" stroke="#e4a352" stroke-width="1.4"/>
<circle cx="437.50" cy="554.40" r="3.4" fill="#e1983d" stroke="#111" stroke-width="1.2"/>
<line x1="430.20" y1="581.40" x2="502.70" y2="581.40" stroke="#ad465a" stroke-width="1.35"/>
<line x1="430.20" y1="574.65" x2="430.20" y2="588.15" stroke="#ad465a" stroke-width="1.4"/>
<line x1="502.70" y1="574.65" x2="502.70" y2="588.15" stroke="#ad465a" stroke-width="1.4"/>
<circle cx="457.50" cy="581.40" r="3.4" fill="#ab374c" stroke="#111" stroke-width="1.2"/>
<line x1="418.30" y1="608.40" x2="446.20" y2="608.40" stroke="#efc250" stroke-width="1.35"/>
<line x1="418.30" y1="601.65" x2="418.30" y2="615.15" stroke="#efc250" stroke-width="1.4"/>
<line x1="446.20" y1="601.65" x2="446.20" y2="615.15" stroke="#efc250" stroke-width="1.4"/>
<circle cx="430.20" cy="608.40" r="3.4" fill="#f2c043" stroke="#111" stroke-width="1.2"/>
<line x1="419.20" y1="635.40" x2="458.10" y2="635.40" stroke="#efc250" stroke-width="1.35"/>
<line x1="419.20" y1="628.65" x2="419.20" y2="642.15" stroke="#efc250" stroke-width="1.4"/>
<line x1="458.10" y1="628.65" x2="458.10" y2="642.15" stroke="#efc250" stroke-width="1.4"/>
<circle cx="435.00" cy="635.40" r="3.4" fill="#f2c043" stroke="#111" stroke-width="1.2"/>
<line x1="423.80" y1="662.40" x2="460.40" y2="662.40" stroke="#e4a352" stroke-width="1.35"/>
<line x1="423.80" y1="655.65" x2="423.80" y2="669.15" stroke="#e4a352" stroke-width="1.4"/>
<line x1="460.40" y1="655.65" x2="460.40" y2="669.15" stroke="#e4a352" stroke-width="1.4"/>
<circle cx="438.80" cy="662.40" r="3.4" fill="#e1983d" stroke="#111" stroke-width="1.2"/>
<line x1="428.80" y1="689.40" x2="486.50" y2="689.40" stroke="#ad465a" stroke-width="1.35"/>
<line x1="428.80" y1="682.65" x2="428.80" y2="696.15" stroke="#ad465a" stroke-width="1.4"/>
<line x1="486.50" y1="682.65" x2="486.50" y2="696.15" stroke="#ad465a" stroke-width="1.4"/>
<circle cx="451.30" cy="689.40" r="3.4" fill="#ab374c" stroke="#111" stroke-width="1.2"/>
<text x="86.76" y="747.20" font-size="13.2" fill="#1a1a1a" stroke="#1a1a1a" stroke-width="0.12" textLength="159.62" lengthAdjust="spacingAndGlyphs" >Linear regression beta values</text>
<text x="303.19" y="741.60" font-size="13.2" fill="#1a1a1a" stroke="#1a1a1a" stroke-width="0.12" textLength="153.99" lengthAdjust="spacingAndGlyphs" >Subdistribution hazard ratio</text>
<text x="104.00" y="396.80" font-size="10" fill="#1a1a1a" stroke="#1a1a1a" stroke-width="0.22" textLength="33.32" lengthAdjust="spacingAndGlyphs" >P-value</text>
<circle cx="110.20" cy="409.10" r="5.3" fill="#f2c043" stroke="#111" stroke-width="1.4"/>
<text x="119.74" y="411.90" font-size="9.7" stroke-width="0.25" textLength="61.51" lengthAdjust="spacingAndGlyphs" xml:space="preserve"><tspan fill="#1a1a1a" stroke="#1a1a1a">0.05 </tspan><tspan fill="#7e7e7e" stroke="none">&gt;</tspan><tspan fill="#1a1a1a" stroke="#1a1a1a"> p </tspan><tspan fill="#7e7e7e" stroke="none">≥</tspan><tspan fill="#1a1a1a" stroke="#1a1a1a"> 0.01</tspan></text>
<circle cx="207.30" cy="409.10" r="5.3" fill="#e1983d" stroke="#111" stroke-width="1.4"/>
<text x="216.84" y="411.90" font-size="9.7" stroke-width="0.25" textLength="77.84" lengthAdjust="spacingAndGlyphs" xml:space="preserve"><tspan fill="#1a1a1a" stroke="#1a1a1a">0.01 </tspan><tspan fill="#7e7e7e" stroke="none">&gt;</tspan><tspan fill="#1a1a1a" stroke="#1a1a1a"> p </tspan><tspan fill="#7e7e7e" stroke="none">≥</tspan><tspan fill="#1a1a1a" stroke="#1a1a1a"> 0.00054</tspan></text>
<circle cx="322.90" cy="409.10" r="5.3" fill="#ab374c" stroke="#111" stroke-width="1.4"/>
<text x="332.63" y="411.90" font-size="9.7" stroke-width="0.25" textLength="84.78" lengthAdjust="spacingAndGlyphs" xml:space="preserve"><tspan fill="#1a1a1a" stroke="#1a1a1a">0.00054 </tspan><tspan fill="#7e7e7e" stroke="none">&gt;</tspan><tspan fill="#1a1a1a" stroke="#1a1a1a"> p </tspan><tspan fill="#7e7e7e" stroke="none">≥</tspan><tspan fill="#1a1a1a" stroke="#1a1a1a"> 10e-8</tspan></text>
<circle cx="444.20" cy="409.10" r="5.3" fill="#7b5d3a" stroke="#111" stroke-width="1.4"/>
<text x="453.88" y="411.90" font-size="9.7" stroke-width="0.25" textLength="40.32" lengthAdjust="spacingAndGlyphs" xml:space="preserve"><tspan fill="#1a1a1a" stroke="#1a1a1a">10e-8 </tspan><tspan fill="#7e7e7e" stroke="none">&gt;</tspan><tspan fill="#1a1a1a" stroke="#1a1a1a"> p</tspan></text>
<text x="104.61" y="772.50" font-size="10" fill="#1a1a1a" stroke="#1a1a1a" stroke-width="0.22" textLength="32.91" lengthAdjust="spacingAndGlyphs" >P-value</text>
<circle cx="110.20" cy="784.50" r="5.3" fill="#f2c043" stroke="#111" stroke-width="1.4"/>
<text x="119.74" y="787.30" font-size="9.7" stroke-width="0.25" textLength="61.51" lengthAdjust="spacingAndGlyphs" xml:space="preserve"><tspan fill="#1a1a1a" stroke="#1a1a1a">0.05 </tspan><tspan fill="#7e7e7e" stroke="none">&gt;</tspan><tspan fill="#1a1a1a" stroke="#1a1a1a"> p </tspan><tspan fill="#7e7e7e" stroke="none">≥</tspan><tspan fill="#1a1a1a" stroke="#1a1a1a"> 0.01</tspan></text>
<circle cx="207.30" cy="784.50" r="5.3" fill="#e1983d" stroke="#111" stroke-width="1.4"/>
<text x="216.84" y="787.30" font-size="9.7" stroke-width="0.25" textLength="77.84" lengthAdjust="spacingAndGlyphs" xml:space="preserve"><tspan fill="#1a1a1a" stroke="#1a1a1a">0.01 </tspan><tspan fill="#7e7e7e" stroke="none">&gt;</tspan><tspan fill="#1a1a1a" stroke="#1a1a1a"> p </tspan><tspan fill="#7e7e7e" stroke="none">≥</tspan><tspan fill="#1a1a1a" stroke="#1a1a1a"> 0.00054</tspan></text>
<circle cx="322.90" cy="784.50" r="5.3" fill="#ab374c" stroke="#111" stroke-width="1.4"/>
<text x="332.63" y="787.30" font-size="9.7" stroke-width="0.25" textLength="84.78" lengthAdjust="spacingAndGlyphs" xml:space="preserve"><tspan fill="#1a1a1a" stroke="#1a1a1a">0.00054 </tspan><tspan fill="#7e7e7e" stroke="none">&gt;</tspan><tspan fill="#1a1a1a" stroke="#1a1a1a"> p </tspan><tspan fill="#7e7e7e" stroke="none">≥</tspan><tspan fill="#1a1a1a" stroke="#1a1a1a"> 10e-8</tspan></text>
<circle cx="444.20" cy="784.50" r="5.3" fill="#7b5d3a" stroke="#111" stroke-width="1.4"/>
<text x="453.88" y="787.30" font-size="9.7" stroke-width="0.25" textLength="40.32" lengthAdjust="spacingAndGlyphs" xml:space="preserve"><tspan fill="#1a1a1a" stroke="#1a1a1a">10e-8 </tspan><tspan fill="#7e7e7e" stroke="none">&gt;</tspan><tspan fill="#1a1a1a" stroke="#1a1a1a"> p</tspan></text>
</svg>
</body></html>
